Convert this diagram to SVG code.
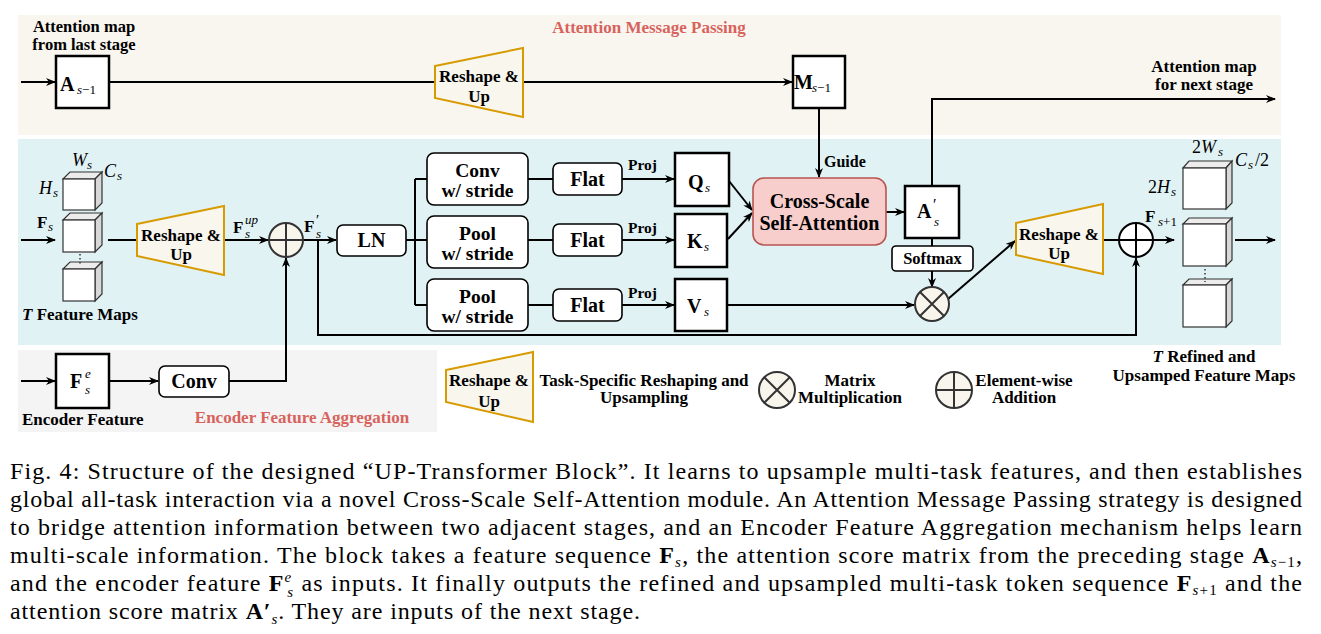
<svg xmlns="http://www.w3.org/2000/svg" width="1321" height="634" viewBox="0 0 1321 634">
<defs>
<style>
text{font-family:"Liberation Serif","Times New Roman",serif;fill:#000}
.b{font-weight:bold}
.lb{font-weight:bold;font-size:17px}
.red{fill:#d8625c;font-weight:bold}
.m{font-weight:bold;font-size:20px}
.it{font-style:italic}
.sub{font-style:italic;font-size:13px}
.box{fill:#fff;stroke:#000;stroke-width:1.6}
.sq{fill:#fff;stroke:#000;stroke-width:2.5}
.trap{fill:#f9f6ee;stroke:#d79b00;stroke-width:2}
.circ{fill:#f8f5ec;stroke:#333;stroke-width:2}
.cl{stroke:#333;stroke-width:2}
.ln{fill:none;stroke:#000;stroke-width:2}
.ar{fill:none;stroke:#000;stroke-width:2;marker-end:url(#ah)}
.cf{fill:#fff;stroke:#333;stroke-width:1.2}
.ct{fill:#ececec;stroke:#333;stroke-width:1.2}
.cs{fill:#d8d8d8;stroke:#333;stroke-width:1.2}
.cap{font-size:24px}
.capb{font-weight:bold}
.capi{font-style:italic;font-size:15px}
</style>
<marker id="ah" viewBox="0 0 10 8" refX="9" refY="4" markerWidth="10" markerHeight="8" markerUnits="userSpaceOnUse" orient="auto">
<path d="M0,0 L10,4 L0,8 L3,4 Z" fill="#000"/>
</marker>
</defs>

<!-- backgrounds -->
<rect x="18" y="15" width="1263" height="120" fill="#f8f6ef"/>
<rect x="18" y="139" width="1263" height="206" fill="#e1f2f5"/>
<rect x="18" y="350" width="419" height="82" fill="#f4f4f4"/>

<!-- connectors -->
<g id="connectors">
<path class="ar" d="M21,82 H55"/>
<path class="ln" d="M109,82 H436"/>
<path class="ar" d="M523,82 H792"/>
<path class="ar" d="M819,108 V177"/>
<path class="ar" d="M932,186 V99 H1275"/>
<path class="ar" d="M21,240 H55"/>
<path class="ln" d="M108,240 H138"/>
<path class="ar" d="M224,240 H268"/>
<path class="ar" d="M303,240 H336"/>
<path class="ln" d="M406,240 H427 M415,179 V305 M415,179 H427 M415,305 H427"/>
<path class="ln" d="M528,179 H553 M528,240 H553 M528,305 H553"/>
<path class="ar" d="M622,179 H674"/>
<path class="ar" d="M622,240 H674"/>
<path class="ar" d="M622,305 H674"/>
<path class="ar" d="M729,181 L752,210"/>
<path class="ar" d="M728,239 L752,213"/>
<path class="ar" d="M886,212 H904"/>
<path class="ln" d="M932,238 V246"/>
<path class="ar" d="M932,271 V287"/>
<path class="ar" d="M727,305 H914"/>
<path class="ar" d="M948,299 L1015,241"/>
<path class="ln" d="M1103,240 H1119"/>
<path class="ar" d="M1153,240 H1174"/>
<path class="ar" d="M1235,240 H1275"/>
<path class="ar" d="M318,240 V335 H1136 V258"/>
<path class="ar" d="M21,381 H55"/>
<path class="ar" d="M109,381 H158"/>
<path class="ar" d="M229,381 H286 V258"/>
</g>

<!-- top band -->
<text class="red" x="649" y="33" font-size="17" text-anchor="middle">Attention Message Passing</text>
<g id="label-last-stage">
<text class="b" x="84" y="32" font-size="16.5" text-anchor="middle">Attention map</text>
<text class="b" x="84" y="50" font-size="16.5" text-anchor="middle">from last stage</text>
</g>
<g id="A-prev">
<rect class="sq" x="56" y="56" width="53" height="52"/>
<text class="m" x="60" y="91">A</text>
<text class="sub" x="77" y="94"><tspan class="it">s</tspan><tspan font-style="normal">−1</tspan></text>
</g>
<g id="reshape-top">
<polygon class="trap" points="435,66 523,48 523,117 435,98"/>
<text class="lb" x="479" y="82" text-anchor="middle">Reshape &amp;</text>
<text class="lb" x="479" y="102" text-anchor="middle">Up</text>
</g>
<g id="M-prev">
<rect class="sq" x="793" y="56" width="52" height="52"/>
<text class="m" x="794" y="89" font-size="19">M</text>
<text class="sub" x="812" y="92"><tspan class="it">s</tspan><tspan font-style="normal">−1</tspan></text>
</g>
<text class="b" x="824" y="167" font-size="16">Guide</text>
<g id="label-next-stage">
<text class="b" x="1204" y="72" font-size="17" text-anchor="middle">Attention map</text>
<text class="b" x="1204" y="90" font-size="17" text-anchor="middle">for next stage</text>
</g>

<!-- input cubes -->
<g id="input-cubes">
<polygon class="ct" points="63,179 70,172 102,172 95,179"/>
<polygon class="cs" points="95,179 102,172 102,203 95,210"/>
<rect class="cf" x="63" y="179" width="32" height="31"/>
<polygon class="ct" points="63,220 70,213 102,213 95,220"/>
<polygon class="cs" points="95,220 102,213 102,245 95,252"/>
<rect class="cf" x="63" y="220" width="32" height="32"/>
<polygon class="ct" points="63,269 70,262 102,262 95,269"/>
<polygon class="cs" points="95,269 102,262 102,294 95,301"/>
<rect class="cf" x="63" y="269" width="32" height="32"/>
<line x1="80" y1="254" x2="80" y2="266" stroke="#333" stroke-width="1.5" stroke-dasharray="1.5,2.5"/>
<text class="it" x="72" y="166" font-size="18">W</text><text class="sub" x="87" y="169" font-size="12">s</text>
<text class="it" x="104" y="177" font-size="18">C</text><text class="sub" x="117" y="180" font-size="12">s</text>
<text class="it" x="39" y="194" font-size="18">H</text><text class="sub" x="53" y="197" font-size="12">s</text>
<text class="b" x="37" y="228" font-size="17">F</text><text class="sub" x="48" y="231" font-size="12">s</text>
<text class="b" x="22" y="320" font-size="17"><tspan class="it">T</tspan> Feature Maps</text>
</g>

<g id="reshape-left">
<polygon class="trap" points="137,224 224,206 224,275 137,256"/>
<text class="lb" x="181" y="241" text-anchor="middle">Reshape &amp;</text>
<text class="lb" x="181" y="260" text-anchor="middle">Up</text>
</g>
<text class="b" x="233" y="233" font-size="17">F</text><text class="sub" x="245" y="224" font-size="12">up</text><text class="sub" x="245" y="238" font-size="12">s</text>

<g id="add-left">
<circle class="circ" cx="286" cy="240" r="17"/>
<path class="cl" d="M269,240 H303 M286,223 V257"/>
</g>
<text class="b" x="304" y="232" font-size="17">F</text><text x="316" y="225" font-size="15">′</text><text class="sub" x="316" y="238" font-size="12">s</text>

<g id="LN">
<rect class="box" x="337" y="225" width="69" height="31" rx="6"/>
<text class="m" x="371.5" y="247" text-anchor="middle">LN</text>
</g>
<g id="conv-stride">
<rect class="box" x="427" y="153" width="101" height="52" rx="7"/>
<text class="b" x="477.5" y="177" font-size="19.5" text-anchor="middle">Conv</text>
<text class="b" x="477.5" y="197" font-size="19.5" text-anchor="middle">w/ stride</text>
</g>
<g id="pool-stride-1">
<rect class="box" x="427" y="216" width="101" height="52" rx="7"/>
<text class="b" x="477.5" y="240" font-size="19.5" text-anchor="middle">Pool</text>
<text class="b" x="477.5" y="260" font-size="19.5" text-anchor="middle">w/ stride</text>
</g>
<g id="pool-stride-2">
<rect class="box" x="427" y="279" width="101" height="52" rx="7"/>
<text class="b" x="477.5" y="303" font-size="19.5" text-anchor="middle">Pool</text>
<text class="b" x="477.5" y="323" font-size="19.5" text-anchor="middle">w/ stride</text>
</g>
<g id="flat-1">
<rect class="box" x="553" y="163" width="69" height="32" rx="6"/>
<text class="m" x="587.5" y="186" text-anchor="middle">Flat</text>
</g>
<g id="flat-2">
<rect class="box" x="553" y="224" width="69" height="32" rx="6"/>
<text class="m" x="587.5" y="247" text-anchor="middle">Flat</text>
</g>
<g id="flat-3">
<rect class="box" x="553" y="289" width="69" height="32" rx="6"/>
<text class="m" x="587.5" y="312" text-anchor="middle">Flat</text>
</g>
<text class="b" x="628" y="170" font-size="15.5">Proj</text>
<text class="b" x="628" y="233" font-size="15.5">Proj</text>
<text class="b" x="628" y="298" font-size="15.5">Proj</text>

<g id="Q">
<rect class="sq" x="675" y="153" width="54" height="53"/>
<text class="m" x="688" y="189">Q</text><text class="sub" x="705" y="192">s</text>
</g>
<g id="K">
<rect class="sq" x="675" y="214" width="52" height="53"/>
<text class="m" x="687" y="248">K</text><text class="sub" x="704" y="251">s</text>
</g>
<g id="V">
<rect class="sq" x="675" y="279" width="52" height="52"/>
<text class="m" x="687" y="313">V</text><text class="sub" x="704" y="316">s</text>
</g>

<g id="cross-scale-attention">
<rect x="753" y="178" width="133" height="67" rx="11" fill="#f8cecc" stroke="#b85450" stroke-width="1.6"/>
<text class="m" x="819.5" y="208" text-anchor="middle">Cross-Scale</text>
<text class="m" x="819.5" y="230" text-anchor="middle">Self-Attention</text>
</g>
<g id="A-prime">
<rect class="sq" x="905" y="186" width="54" height="52"/>
<text class="m" x="917" y="218">A</text><text x="933" y="210" font-size="16">′</text><text class="sub" x="934" y="226">s</text>
</g>
<g id="softmax">
<rect class="box" x="892" y="246" width="81" height="25" rx="4"/>
<text class="b" x="932.5" y="264" font-size="16.5" text-anchor="middle">Softmax</text>
</g>
<g id="matmul">
<circle class="circ" cx="932" cy="304" r="17"/>
<path class="cl" d="M920,292 L944,316 M944,292 L920,316"/>
</g>
<g id="reshape-right">
<polygon class="trap" points="1016,223 1103,204 1103,274 1016,255"/>
<text class="lb" x="1059" y="240" text-anchor="middle">Reshape &amp;</text>
<text class="lb" x="1059" y="259" text-anchor="middle">Up</text>
</g>
<g id="add-right">
<circle cx="1136" cy="240" r="17" fill="#fff" stroke="#000" stroke-width="2"/>
<path d="M1119,240 H1153 M1136,223 V257" stroke="#000" stroke-width="2"/>
</g>
<text class="b" x="1145" y="222" font-size="17">F</text><text x="1158" y="226" font-size="13"><tspan class="it">s</tspan>+1</text>

<g id="output-cubes">
<polygon class="ct" points="1183,168 1189,161 1232,161 1226,168"/>
<polygon class="cs" points="1226,168 1232,161 1232,203 1226,209"/>
<rect class="cf" x="1183" y="168" width="43" height="41"/>
<polygon class="ct" points="1183,224 1189,218 1232,218 1226,224"/>
<polygon class="cs" points="1226,224 1232,218 1232,260 1226,266"/>
<rect class="cf" x="1183" y="224" width="43" height="42"/>
<polygon class="ct" points="1183,285 1189,279 1232,279 1226,285"/>
<polygon class="cs" points="1226,285 1232,279 1232,321 1226,327"/>
<rect class="cf" x="1183" y="285" width="43" height="42"/>
<line x1="1205" y1="269" x2="1205" y2="282" stroke="#333" stroke-width="1.5" stroke-dasharray="1.5,2.5"/>
<text x="1192" y="153" font-size="18">2<tspan class="it">W</tspan></text><text class="sub" x="1218" y="156" font-size="12">s</text>
<text class="it" x="1235" y="166" font-size="18">C</text><text class="sub" x="1248" y="169" font-size="12">s</text><text x="1255" y="166" font-size="18">/2</text>
<text x="1148" y="193" font-size="18">2<tspan class="it">H</tspan></text><text class="sub" x="1171" y="196" font-size="12">s</text>
<text class="b" x="1204" y="362" font-size="17" text-anchor="middle"><tspan class="it">T</tspan> Refined and</text>
<text class="b" x="1204" y="381" font-size="17" text-anchor="middle">Upsamped Feature Maps</text>
</g>

<!-- encoder band -->
<g id="F-encoder">
<rect class="sq" x="56" y="354" width="53" height="54"/>
<text class="m" x="70" y="388">F</text><text class="sub" x="85" y="378">e</text><text class="sub" x="85" y="394">s</text>
</g>
<g id="conv-encoder">
<rect class="box" x="159" y="366" width="70" height="31" rx="6"/>
<text class="m" x="194" y="388" text-anchor="middle">Conv</text>
</g>
<text class="b" x="22" y="425" font-size="17">Encoder Feature</text>
<text class="red" x="302" y="423" font-size="17" text-anchor="middle">Encoder Feature Aggregation</text>

<!-- legend -->
<g id="legend-reshape">
<polygon class="trap" points="446,370 533,352 533,422 446,402"/>
<text class="lb" x="489" y="386" text-anchor="middle">Reshape &amp;</text>
<text class="lb" x="489" y="407" text-anchor="middle">Up</text>
<text class="lb" x="644" y="386" text-anchor="middle">Task-Specific Reshaping and</text>
<text class="lb" x="644" y="403" text-anchor="middle">Upsampling</text>
</g>
<g id="legend-matmul">
<circle class="circ" cx="777" cy="390" r="18"/>
<path class="cl" d="M764,377 L790,403 M790,377 L764,403"/>
<text class="lb" x="850" y="386" text-anchor="middle">Matrix</text>
<text class="lb" x="850" y="403" text-anchor="middle">Multiplication</text>
</g>
<g id="legend-add">
<circle class="circ" cx="954" cy="390" r="18"/>
<path class="cl" d="M936,390 H972 M954,372 V408"/>
<text class="lb" x="1024" y="386" text-anchor="middle">Element-wise</text>
<text class="lb" x="1024" y="403" text-anchor="middle">Addition</text>
</g>

<!-- caption -->
<g id="caption">
<text class="cap" x="10" y="479" textLength="1292" lengthAdjust="spacing">Fig. 4: Structure of the designed “UP-Transformer Block”. It learns to upsample multi-task features, and then establishes</text>
<text class="cap" x="10" y="507" textLength="1292" lengthAdjust="spacing">global all-task interaction via a novel Cross-Scale Self-Attention module. An Attention Message Passing strategy is designed</text>
<text class="cap" x="10" y="535" textLength="1292" lengthAdjust="spacing">to bridge attention information between two adjacent stages, and an Encoder Feature Aggregation mechanism helps learn</text>
<text class="cap" x="10" y="563" textLength="1292" lengthAdjust="spacing">multi-scale information. The block takes a feature sequence <tspan class="capb">F</tspan><tspan class="capi" dy="4">s</tspan><tspan dy="-4">, the attention score matrix from the preceding stage </tspan><tspan class="capb">A</tspan><tspan font-size="15" dy="4"><tspan class="capi">s</tspan>−1</tspan><tspan dy="-4">,</tspan></text>
<text class="cap" x="10" y="591" textLength="1292" lengthAdjust="spacing">and the encoder feature <tspan class="capb">F</tspan><tspan class="capi" font-size="12" dy="-9">e</tspan><tspan class="capi" font-size="12" dx="-5" dy="15">s</tspan><tspan dy="-6"> as inputs. It finally outputs the refined and upsampled multi-task token sequence </tspan><tspan class="capb">F</tspan><tspan font-size="15" dy="4"><tspan class="capi">s</tspan>+1</tspan><tspan dy="-4"> and the</tspan></text>
<text class="cap" x="10" y="619" textLength="630" lengthAdjust="spacing">attention score matrix <tspan class="capb">A</tspan><tspan class="capb">′</tspan><tspan class="capi" dy="5">s</tspan><tspan dy="-5">. They are inputs of the next stage.</tspan></text>
</g>
</svg>
